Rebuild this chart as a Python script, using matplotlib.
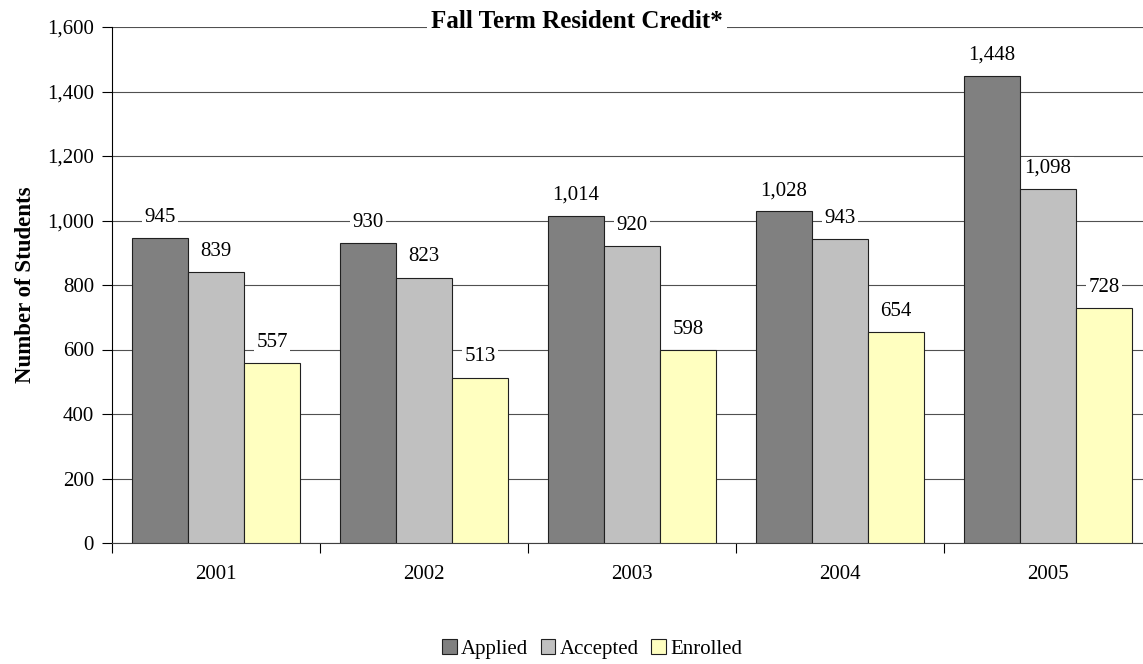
import matplotlib.pyplot as plt
import numpy as np

plt.rcParams['font.family'] = ['Liberation Serif', 'DejaVu Serif']

anos = ['2001', '2002', '2003', '2004', '2005']
applied = [945, 930, 1014, 1028, 1448]
accepted = [839, 823, 920, 943, 1098]
enrolled = [557, 513, 598, 654, 728]

series = [('Applied', applied, '#808080'),
          ('Accepted', accepted, '#C0C0C0'),
          ('Enrolled', enrolled, '#FFFFC0')]

fig = plt.figure(figsize=(11.43, 6.64), dpi=100)
ax = fig.add_axes([112 / 1143, 121 / 664, 1040 / 1143, 516 / 664])

x = np.arange(len(anos))
width = 0.27
for i, (nome, vals, cor) in enumerate(series):
    bars = ax.bar(x + (i - 1) * width, vals, width, color=cor, edgecolor='#202020',
                  linewidth=0.8, label=nome, zorder=3)
    for b, v in zip(bars, vals):
        ax.annotate(f'{v:,}', xy=(b.get_x() + b.get_width() / 2, v),
                    xytext=(0, 8), textcoords='offset points',
                    ha='center', va='bottom', fontsize=15, zorder=4,
                    bbox=dict(facecolor='white', edgecolor='none', pad=1.5))

ax.set_xlim(-0.5, len(anos) - 0.5)
ax.set_ylim(0, 1600)
ax.set_yticks(range(0, 1601, 200))
ax.set_yticklabels([f'{v:,}' for v in range(0, 1601, 200)], fontsize=15)
ax.yaxis.grid(True, color='#505050', linewidth=0.8, zorder=0)
ax.set_axisbelow(True)

ax.set_xticks(np.arange(-0.5, len(anos), 1.0))
ax.set_xticklabels([])
ax.set_xticks(x, minor=True)
ax.set_xticklabels(anos, minor=True, fontsize=15)
ax.tick_params(axis='x', which='minor', length=0, pad=16)
ax.tick_params(axis='x', which='major', direction='out', length=7)
ax.tick_params(axis='y', direction='out', length=7, pad=6)

for s in ['top', 'right']:
    ax.spines[s].set_visible(False)
ax.spines['left'].set_color('black')
ax.spines['bottom'].set_color('#404040')

ax.set_ylabel('Number of Students', fontsize=16.5, fontweight='bold', labelpad=8)
fig.text(0.505, 0.968, 'Fall Term Resident Credit*', ha='center', va='center',
         fontsize=18, fontweight='bold',
         bbox=dict(facecolor='white', edgecolor='none', pad=3))

fig.legend(loc='center', bbox_to_anchor=(0.518, 0.023), ncol=3, frameon=False,
           fontsize=15, handlelength=0.7, handleheight=0.7, handletextpad=0.2,
           columnspacing=0.6)

plt.savefig('out.png', dpi=100)
